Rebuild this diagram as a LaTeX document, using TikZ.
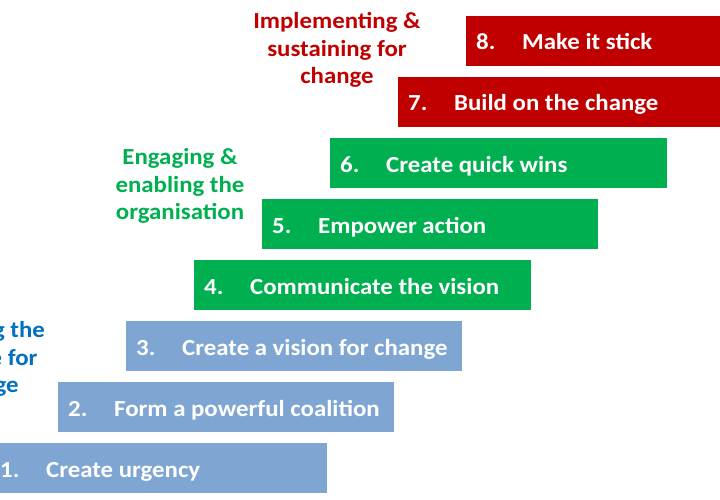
\documentclass[tikz,border=0pt]{standalone}
\usepackage{fontspec}
\setmainfont{Carlito}[FakeStretch=1.08]
\begin{document}
\begin{tikzpicture}[x=1pt,y=-1pt,
 bar/.style={inner sep=0pt,text=white,font=\bfseries\fontsize{23}{24}\selectfont},
 lbl/.style={align=center,font=\bfseries\fontsize{23}{27.5}\selectfont}]
\useasboundingbox (0,0) rectangle (720,500);
\definecolor{lb}{HTML}{7FA6D3}\definecolor{gr}{HTML}{00B050}\definecolor{rd}{HTML}{C00000}\definecolor{bl}{HTML}{0070C0}
\begin{scope}
\clip (0,0) rectangle (720,500);
\newcommand\stp[6]{\fill[#4] (#2,#3) rectangle (#2+#5,#3+50);
 \node[bar,anchor=base west] (n#1) at (#2+10,#3+34) {#1.};
 \node[bar,anchor=base west] (t#1) at (#2+56,#3+34) {#6};}
\stp{1}{-10}{443}{lb}{337}{Create urgency}
\stp{2}{58}{382}{lb}{336}{Form a powerful coalition}
\stp{3}{126}{321}{lb}{336}{Create a vision for change}
\stp{4}{194}{260}{gr}{337}{Communicate the vision}
\stp{5}{262}{199}{gr}{336}{Empower action}
\stp{6}{330}{138}{gr}{337}{Create quick wins}
\stp{7}{398}{77}{rd}{330}{Build on the change}
\stp{8}{466}{16}{rd}{260}{Make it stick}
\node[lbl,text=bl] (lc) at (-18,359) {Creating the\\climate for\\change};
\end{scope}
\node[lbl,text=gr] (le) at (180,186) {Engaging \&\\enabling the\\organisation};
\node[lbl,text=rd] (li) at (337,50) {Implementing \&\\sustaining for\\change};
\end{tikzpicture}
\end{document}
